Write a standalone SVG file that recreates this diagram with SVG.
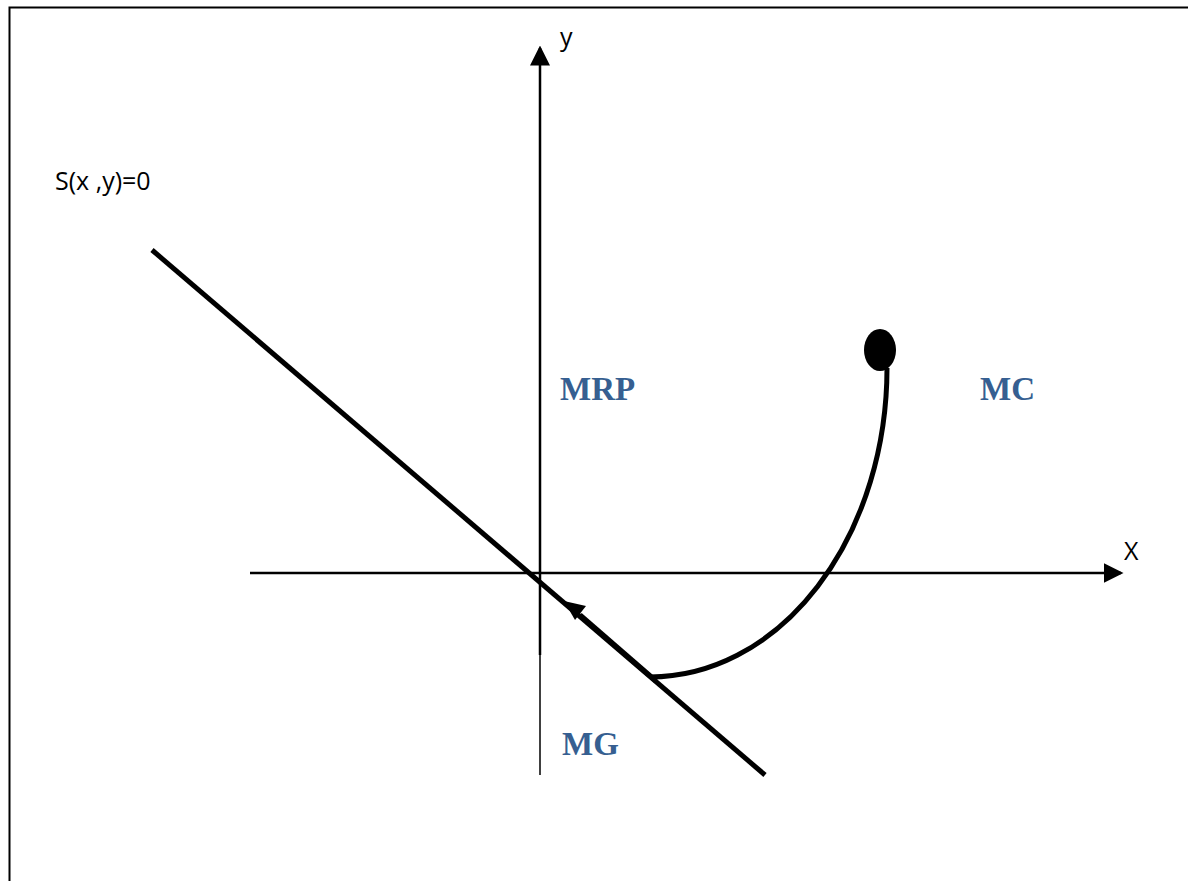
<svg xmlns="http://www.w3.org/2000/svg" width="1188" height="881" viewBox="0 0 1188 881">
<style>
.ax{stroke:#000;stroke-width:2.5;fill:none}
.lbl{font-family:"Open Sans","Liberation Sans",sans-serif;font-size:25px;fill:#000}
.blue{font-family:"Liberation Serif","DejaVu Serif",serif;font-weight:bold;font-size:33px;fill:#365F91}
</style>
<defs>
<marker id="ah" markerWidth="8" markerHeight="8" refX="7" refY="4" orient="auto" markerUnits="strokeWidth">
<path d="M0,0 L8,4 L0,8 Z" fill="#000"/>
</marker>
</defs>
<rect x="9.5" y="7.5" width="1200" height="900" fill="#fff" stroke="#000" stroke-width="2"/>
<g id="connectors">
<line class="ax" x1="540" y1="655" x2="540" y2="48" marker-end="url(#ah)" stroke-width="2.5"/>
<line x1="540" y1="655" x2="540" y2="775" stroke="#000" stroke-width="1.5"/>
<line class="ax" x1="250" y1="573" x2="1121" y2="573" marker-end="url(#ah)"/>
<line x1="152" y1="250" x2="765" y2="775" stroke="#000" stroke-width="5"/>
<path d="M887,368 A237,309 0 0 1 650,677" fill="none" stroke="#000" stroke-width="5"/>
<line x1="656" y1="681" x2="580" y2="615" stroke="#000" stroke-width="5"/>
<path d="M564,601 L586,606 L575,620 Z" fill="#000"/>
</g>
<g id="dot"><ellipse cx="880" cy="350" rx="16" ry="21" fill="#000"/></g>
<g id="labels">
<text class="lbl" x="560" y="46">y</text>
<text class="lbl" x="1124" y="560">X</text>
<text class="lbl" x="55" y="190">S(x ,y)=0</text>
</g>
<g id="MRP"><text class="blue" x="560" y="400">MRP</text></g>
<g id="MC"><text class="blue" x="980" y="400">MC</text></g>
<g id="MG"><text class="blue" x="562" y="755">MG</text></g>
</svg>
